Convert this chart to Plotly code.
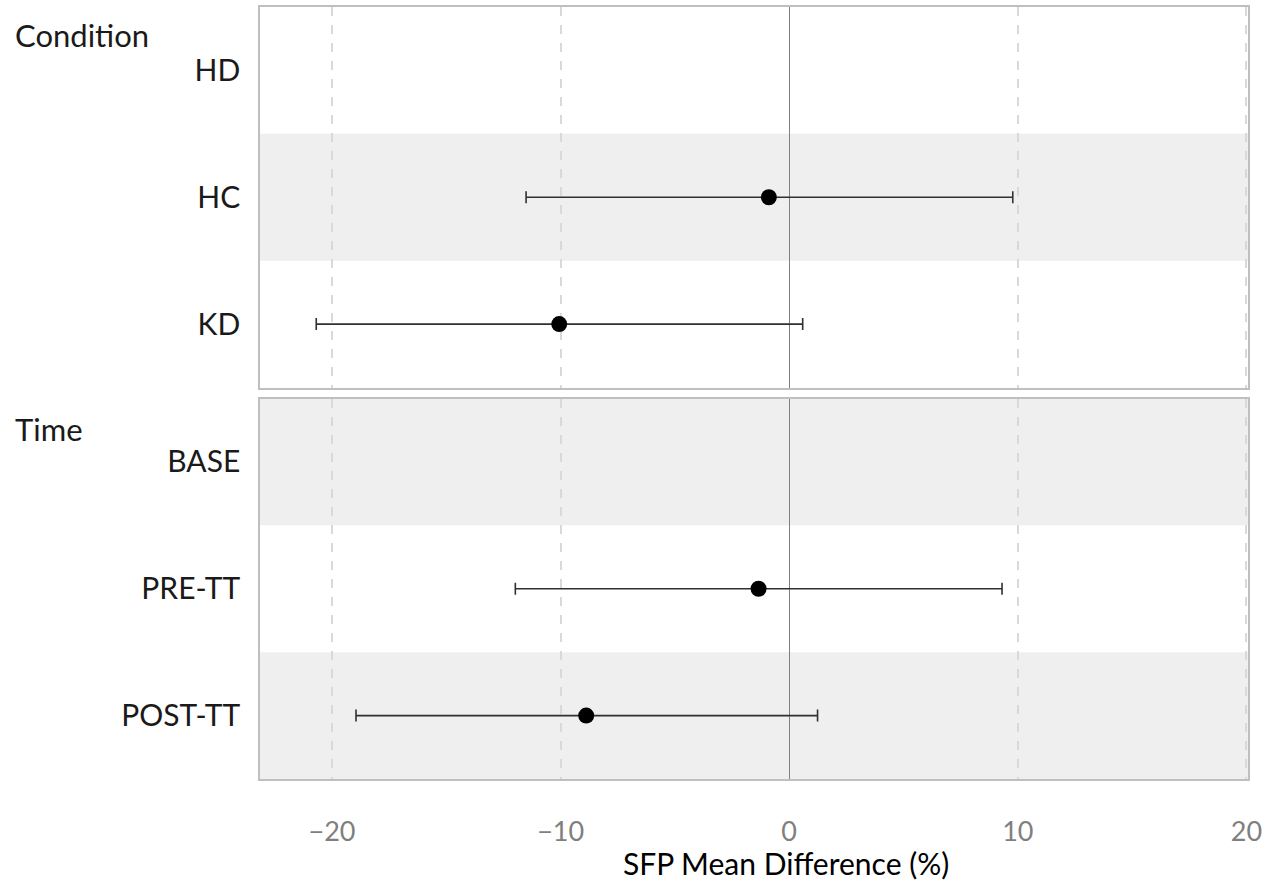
import plotly.graph_objects as go
from plotly.subplots import make_subplots

# ---- data ----
condition_labels = ["HD", "HC", "KD"]
condition_mean = [None, -0.89, -10.06]
condition_low = [None, -11.51, -20.69]
condition_high = [None, 9.78, 0.59]

time_labels = ["BASE", "PRE-TT", "POST-TT"]
time_mean = [None, -1.34, -8.88]
time_low = [None, -11.98, -18.95]
time_high = [None, 9.31, 1.24]

group_titles = ["Condition", "Time"]
x_ticks = [-20, -10, 0, 10, 20]
x_title = "SFP Mean Difference (%)"

# ---- styling ----
FONT = "Lato"
BAND = "#efefef"
bands_condition = [False, True, False]
bands_time = [True, False, True]
PLOT_H = 772  # plot area height in px (7 .. 779)

fig = make_subplots(rows=2, cols=1, shared_xaxes=True, vertical_spacing=11 / PLOT_H)


def add_group(labels, mean, low, high, bands, row):
    ypos = list(range(len(labels)))
    plus = [None if m is None else h - m for m, h in zip(mean, high)]
    minus = [None if m is None else m - l for m, l in zip(mean, low)]
    fig.add_trace(
        go.Scatter(
            x=mean,
            y=ypos,
            mode="markers",
            marker=dict(size=16, color="black"),
            error_x=dict(
                type="data",
                symmetric=False,
                array=plus,
                arrayminus=minus,
                color="#303030",
                thickness=1.6,
                width=6,
            ),
            showlegend=False,
            hoverinfo="x+y",
        ),
        row=row,
        col=1,
    )
    yref = "y" if row == 1 else "y2"
    xdom = "x domain" if row == 1 else "x2 domain"
    for i, b in enumerate(bands):
        if b:
            fig.add_shape(
                type="rect",
                xref=xdom,
                yref=yref,
                x0=0,
                x1=1,
                y0=i - 0.5,
                y1=i + 0.5,
                fillcolor=BAND,
                line=dict(width=0),
                layer="below",
            )
    fig.update_yaxes(
        tickvals=ypos,
        ticktext=labels,
        range=[len(labels) - 0.5, -0.5],
        showgrid=False,
        zeroline=False,
        showline=True,
        mirror=True,
        linecolor="#bfbfbf",
        linewidth=1.5,
        ticks="",
        ticklabelstandoff=12,
        automargin=False,
        tickfont=dict(family=FONT, size=30, color="#1a1a1a"),
        row=row,
        col=1,
    )


add_group(condition_labels, condition_mean, condition_low, condition_high, bands_condition, 1)
add_group(time_labels, time_mean, time_low, time_high, bands_time, 2)

fig.update_xaxes(
    range=[-23.15, 20.07],
    tickvals=x_ticks,
    showgrid=True,
    griddash="dash",
    gridcolor="#d9d9d9",
    gridwidth=1.5,
    zeroline=True,
    zerolinecolor="#808080",
    zerolinewidth=1,
    showline=True,
    mirror=True,
    linecolor="#bfbfbf",
    linewidth=1.5,
    ticks="",
    automargin=False,
)
fig.update_xaxes(showticklabels=False, row=1, col=1)
fig.update_xaxes(
    showticklabels=True,
    ticklabelstandoff=28,
    tickfont=dict(family=FONT, size=27, color="#7f7f7f"),
    row=2,
    col=1,
)

# x-axis title (placed as annotation for exact position)
fig.add_annotation(
    text=x_title, xref="paper", yref="paper", x=(786 - 260) / 988, y=0,
    xanchor="center", yanchor="middle", yshift=-(863 - 779), showarrow=False,
    font=dict(family=FONT, size=30, color="black"),
)

fig.add_annotation(
    text=group_titles[0], xref="paper", yref="paper", x=0, y=(779 - 35) / PLOT_H,
    xanchor="left", yanchor="middle", xshift=-247, showarrow=False,
    font=dict(family=FONT, size=31, color="#1a1a1a"),
)
fig.add_annotation(
    text=group_titles[1], xref="paper", yref="paper", x=0, y=(779 - 429) / PLOT_H,
    xanchor="left", yanchor="middle", xshift=-247, showarrow=False,
    font=dict(family=FONT, size=31, color="#1a1a1a"),
)

fig.update_layout(
    width=1276,
    height=884,
    margin=dict(l=260, r=28, t=7, b=105),
    paper_bgcolor="white",
    plot_bgcolor="white",
    font=dict(family=FONT),
)

# remove the default 8px page margin so the figure fills the window exactly
fig.write_html(
    "out.html",
    config={"displayModeBar": False},
    post_script="document.body.style.margin='0px';",
)
